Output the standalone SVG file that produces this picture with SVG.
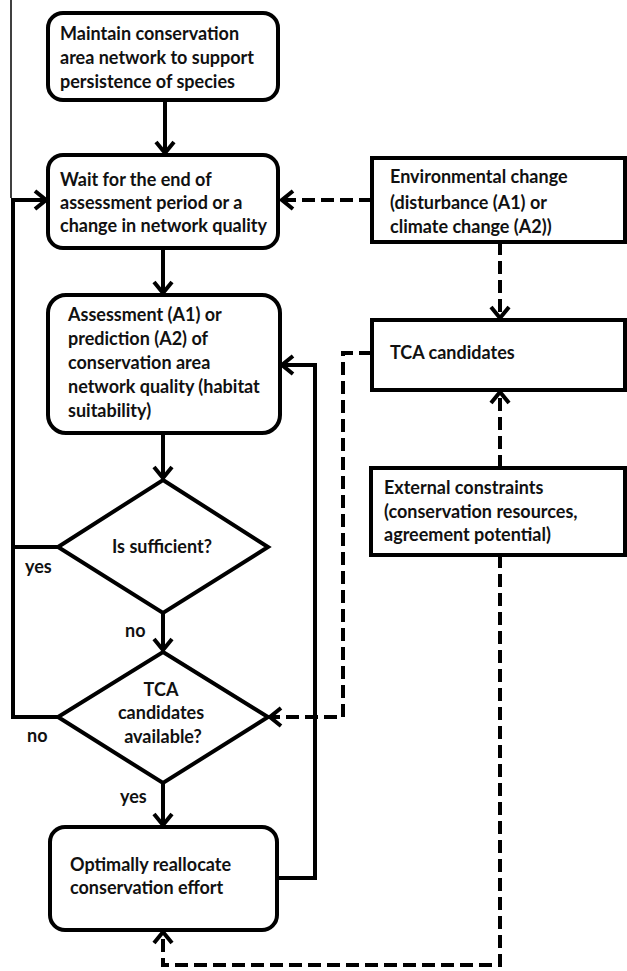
<svg xmlns="http://www.w3.org/2000/svg" width="627" height="971" viewBox="0 0 627 971">
<defs>
<style>
.box{fill:#fff;stroke:#000;stroke-width:4}
.t{font-family:Lato,"Liberation Sans",sans-serif;font-weight:bold;font-size:18px;fill:#111}
.c{text-anchor:middle}
.s{fill:none;stroke:#000;stroke-width:4}
.d{fill:none;stroke:#000;stroke-width:4;stroke-dasharray:13 6}
</style>
<marker id="ah" markerUnits="userSpaceOnUse" markerWidth="16" markerHeight="22" refX="13" refY="11" orient="auto" viewBox="0 0 16 22">
<path d="M2,2 L13,11 L2,20" fill="none" stroke="#000" stroke-width="4"/>
</marker>
</defs>
<rect width="627" height="971" fill="#fff"/>
<line x1="11" y1="0" x2="11" y2="198" stroke="#000" stroke-width="1.5"/>
<g id="connectors">
<line class="s" x1="165" y1="100" x2="165" y2="153" marker-end="url(#ah)"/>
<line class="s" x1="163" y1="248" x2="163" y2="293" marker-end="url(#ah)"/>
<line class="s" x1="163" y1="433" x2="163" y2="478" marker-end="url(#ah)"/>
<line class="s" x1="163" y1="613" x2="163" y2="650" marker-end="url(#ah)"/>
<line class="s" x1="163" y1="783" x2="163" y2="825" marker-end="url(#ah)"/>
<polyline class="s" points="58,547 13,547"/>
<polyline class="s" points="58,717 13,717 13,200 46,200" marker-end="url(#ah)"/>
<polyline class="s" points="277,878 315,878 315,365 282,365" marker-end="url(#ah)"/>
<line class="d" x1="372" y1="200" x2="282" y2="200" marker-end="url(#ah)"/>
<line class="d" x1="500" y1="242" x2="500" y2="318" marker-end="url(#ah)"/>
<line class="d" x1="500" y1="468" x2="500" y2="392" marker-end="url(#ah)"/>
<polyline class="d" points="372,353 343,353 343,717 270,717" marker-end="url(#ah)"/>
<polyline class="d" points="500,555 500,965 163,965 163,932" marker-end="url(#ah)"/>
<text class="t" x="25" y="573">yes</text>
<text class="t" x="125" y="637">no</text>
<text class="t" x="27" y="742">no</text>
<text class="t" x="120" y="803">yes</text>
</g>
<g id="maintain">
<rect class="box" x="48" y="13" width="230" height="87" rx="15"/>
<text class="t" x="60" y="40">Maintain conservation</text>
<text class="t" x="60" y="64">area network  to support</text>
<text class="t" x="60" y="88">persistence of species</text>
</g>
<g id="wait">
<rect class="box" x="48" y="155" width="230" height="93" rx="15"/>
<text class="t" x="60" y="186">Wait for the end of</text>
<text class="t" x="60" y="209">assessment period or a</text>
<text class="t" x="60" y="232">change in network  quality</text>
</g>
<g id="assessment">
<rect class="box" x="48" y="295" width="232" height="138" rx="18"/>
<text class="t" x="68" y="321">Assessment (A1) or</text>
<text class="t" x="68" y="345">prediction (A2) of</text>
<text class="t" x="68" y="369">conservation area</text>
<text class="t" x="68" y="393">network  quality (habitat</text>
<text class="t" x="68" y="417">suitability)</text>
</g>
<g id="sufficient">
<polygon class="box" points="163,480 268,547 163,613 58,547"/>
<text class="t c" x="162" y="553">Is sufficient?</text>
</g>
<g id="available">
<polygon class="box" points="163,652 268,717 163,783 58,717"/>
<text class="t c" x="161" y="696">TCA</text>
<text class="t c" x="161" y="719">candidates</text>
<text class="t c" x="163" y="743">available?</text>
</g>
<g id="reallocate">
<rect class="box" x="50" y="827" width="227" height="103" rx="15"/>
<text class="t" x="70" y="871">Optimally reallocate</text>
<text class="t" x="70" y="894">conservation effort</text>
</g>
<g id="envchange">
<rect class="box" x="372" y="158" width="253" height="84"/>
<text class="t" x="390" y="183">Environmental change</text>
<text class="t" x="390" y="209">(disturbance (A1) or</text>
<text class="t" x="390" y="233">climate change (A2))</text>
</g>
<g id="tca">
<rect class="box" x="372" y="320" width="253" height="70"/>
<text class="t" x="390" y="359">TCA candidates</text>
</g>
<g id="constraints">
<rect class="box" x="371" y="468" width="254" height="87"/>
<text class="t" x="384" y="494">External constraints</text>
<text class="t" x="384" y="518">(conservation resources,</text>
<text class="t" x="384" y="541">agreement potential)</text>
</g>
</svg>
